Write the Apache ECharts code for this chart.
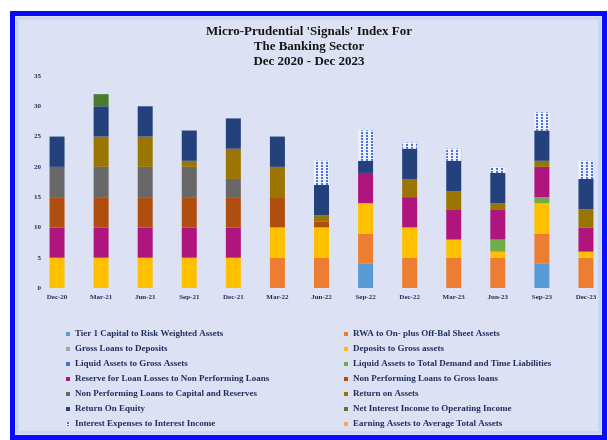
<!DOCTYPE html>
<html>
<head>
<meta charset="utf-8">
<script src="https://cdn.jsdelivr.net/npm/echarts/dist/echarts.min.js"></script>
<style>
html, body { margin: 0; padding: 0; background: #fff; }
#chart { width: 608px; height: 440px; }
</style>
</head>
<body>
<div id="chart"></div>
<script>
// quarters on the x axis
var quarters = ['Dec-20', 'Mar-21', 'Jun-21', 'Sep-21', 'Dec-21', 'Mar-22', 'Jun-22',
  'Sep-22', 'Dec-22', 'Mar-23', 'Jun-23', 'Sep-23', 'Dec-23']

// signal contributions per indicator (stacked bottom to top)
var tier1Capital = [0, 0, 0, 0, 0, 0, 0, 4, 0, 0, 0, 4, 0]
var rwaToAssets = [0, 0, 0, 0, 0, 5, 5, 5, 5, 5, 5, 5, 5]
var grossLoansToDeposits = [0, 0, 0, 0, 0, 0, 0, 0, 0, 0, 0, 0, 0]
var depositsToGross = [5, 5, 5, 5, 5, 5, 5, 5, 5, 3, 1, 5, 1]
var liquidToGross = [0, 0, 0, 0, 0, 0, 0, 0, 0, 0, 0, 0, 0]
var liquidToLiabilities = [0, 0, 0, 0, 0, 0, 0, 0, 0, 0, 2, 1, 0]
var reserveToNpl = [5, 5, 5, 5, 5, 0, 0, 5, 5, 5, 5, 5, 4]
var nplToGross = [5, 5, 5, 5, 5, 5, 1, 0, 0, 0, 0, 0, 0]
var nplToCapital = [5, 5, 5, 5, 3, 0, 0, 0, 0, 0, 0, 0, 0]
var returnOnAssets = [0, 5, 5, 1, 5, 5, 1, 0, 3, 3, 1, 1, 3]
var returnOnEquity = [5, 5, 5, 5, 5, 5, 5, 2, 5, 5, 5, 5, 5]
var netInterestIncome = [0, 2, 0, 0, 0, 0, 0, 0, 0, 0, 0, 0, 0]
var interestExpenses = [0, 0, 0, 0, 0, 0, 4, 5, 1, 2, 1, 3, 3]
var earningAssets = [0, 0, 0, 0, 0, 0, 0, 0, 0, 0, 0, 0, 0]

var yTicks = { min: 0, max: 35, interval: 5 }

// dotted fill for the interest expense segment
var pat = document.createElement('canvas')
pat.width = 5
pat.height = 3
var g = pat.getContext('2d')
g.fillStyle = '#eef2fd'
g.fillRect(0, 0, 5, 3)
g.fillStyle = '#4a70e8'
g.fillRect(1, 0, 2, 2)

var indicators = [
  ['Tier 1 Capital to Risk Weighted Assets', tier1Capital, '#5b9bd5'],
  ['RWA to On- plus Off-Bal Sheet Assets', rwaToAssets, '#ed7d31'],
  ['Gross Loans to Deposits', grossLoansToDeposits, '#a5a5a5'],
  ['Deposits to Gross assets', depositsToGross, '#ffc000'],
  ['Liquid Assets to Gross Assets', liquidToGross, '#4472c4'],
  ['Liquid Assets to Total Demand and Time Liabilities', liquidToLiabilities, '#70ad47'],
  ['Reserve for Loan Losses to Non Performing Loans', reserveToNpl, '#b0147e'],
  ['Non Performing Loans to Gross loans', nplToGross, '#b04e10'],
  ['Non Performing Loans to Capital and Reserves', nplToCapital, '#686868'],
  ['Return on Assets', returnOnAssets, '#9a7500'],
  ['Return On Equity', returnOnEquity, '#24417c'],
  ['Net Interest Income to Operating Income', netInterestIncome, '#4b7a2c'],
  ['Interest Expenses to Interest Income', interestExpenses, { image: pat, repeat: 'repeat' }],
  ['Earning Assets to Average Total Assets', earningAssets, '#f4a46c']
]

var series = indicators.map(function (d) {
  return {
    name: d[0],
    type: 'bar',
    stack: 'signals',
    barWidth: 15,
    data: d[1],
    itemStyle: { color: d[2] }
  }
})

var leftNames = indicators.filter(function (d, i) { return i % 2 === 0 }).map(function (d) { return d[0] })
var rightNames = indicators.filter(function (d, i) { return i % 2 === 1 }).map(function (d) { return d[0] })

var legendText = {
  fontFamily: 'Liberation Serif',
  fontWeight: 'bold',
  fontSize: 9,
  lineHeight: 10,
  color: '#1f2b5c'
}
var labelFont = {
  fontFamily: 'Liberation Serif',
  fontWeight: 'bold',
  fontSize: 7,
  color: '#1f2b5c'
}

var chart = echarts.init(document.getElementById('chart'))
chart.setOption({
  backgroundColor: '#fff',
  animation: false,
  graphic: [
    {
      type: 'rect',
      z: -10,
      shape: { x: 12.5, y: 13.5, width: 592, height: 424 },
      style: { fill: '#dce2f3', stroke: '#0a0aff', lineWidth: 5 }
    },
    {
      type: 'rect',
      z: -9,
      shape: { x: 17.5, y: 18.5, width: 582, height: 414 },
      style: { fill: 'none', stroke: '#c8d5f5', lineWidth: 3 }
    },
    {
      type: 'text',
      x: 309,
      y: 24.5,
      style: {
        text: "Micro-Prudential 'Signals' Index For\nThe Banking Sector\nDec 2020 - Dec 2023",
        fontFamily: 'Liberation Serif',
        fontWeight: 'bold',
        fontSize: 13,
        lineHeight: 15,
        align: 'center',
        fill: '#141414'
      }
    }
  ],
  grid: { left: 35, top: 76, width: 577, height: 212 },
  legend: [
    {
      data: leftNames,
      orient: 'vertical',
      left: 61,
      top: 324,
      itemWidth: 4,
      itemHeight: 4,
      itemGap: 5,
      icon: 'rect',
      selectedMode: false,
      textStyle: legendText
    },
    {
      data: rightNames,
      orient: 'vertical',
      left: 339,
      top: 324,
      itemWidth: 4,
      itemHeight: 4,
      itemGap: 5,
      icon: 'rect',
      selectedMode: false,
      textStyle: legendText
    }
  ],
  xAxis: {
    type: 'category',
    data: quarters,
    axisLine: { show: false },
    axisTick: { show: false },
    axisLabel: Object.assign({ margin: 6, interval: 0 }, labelFont)
  },
  yAxis: {
    type: 'value',
    min: yTicks.min,
    max: yTicks.max,
    interval: yTicks.interval,
    splitLine: { show: false },
    axisLine: { show: false },
    axisTick: { show: false },
    axisLabel: Object.assign({ margin: -6 }, labelFont)
  },
  series: series
})
</script>
</body>
</html>
